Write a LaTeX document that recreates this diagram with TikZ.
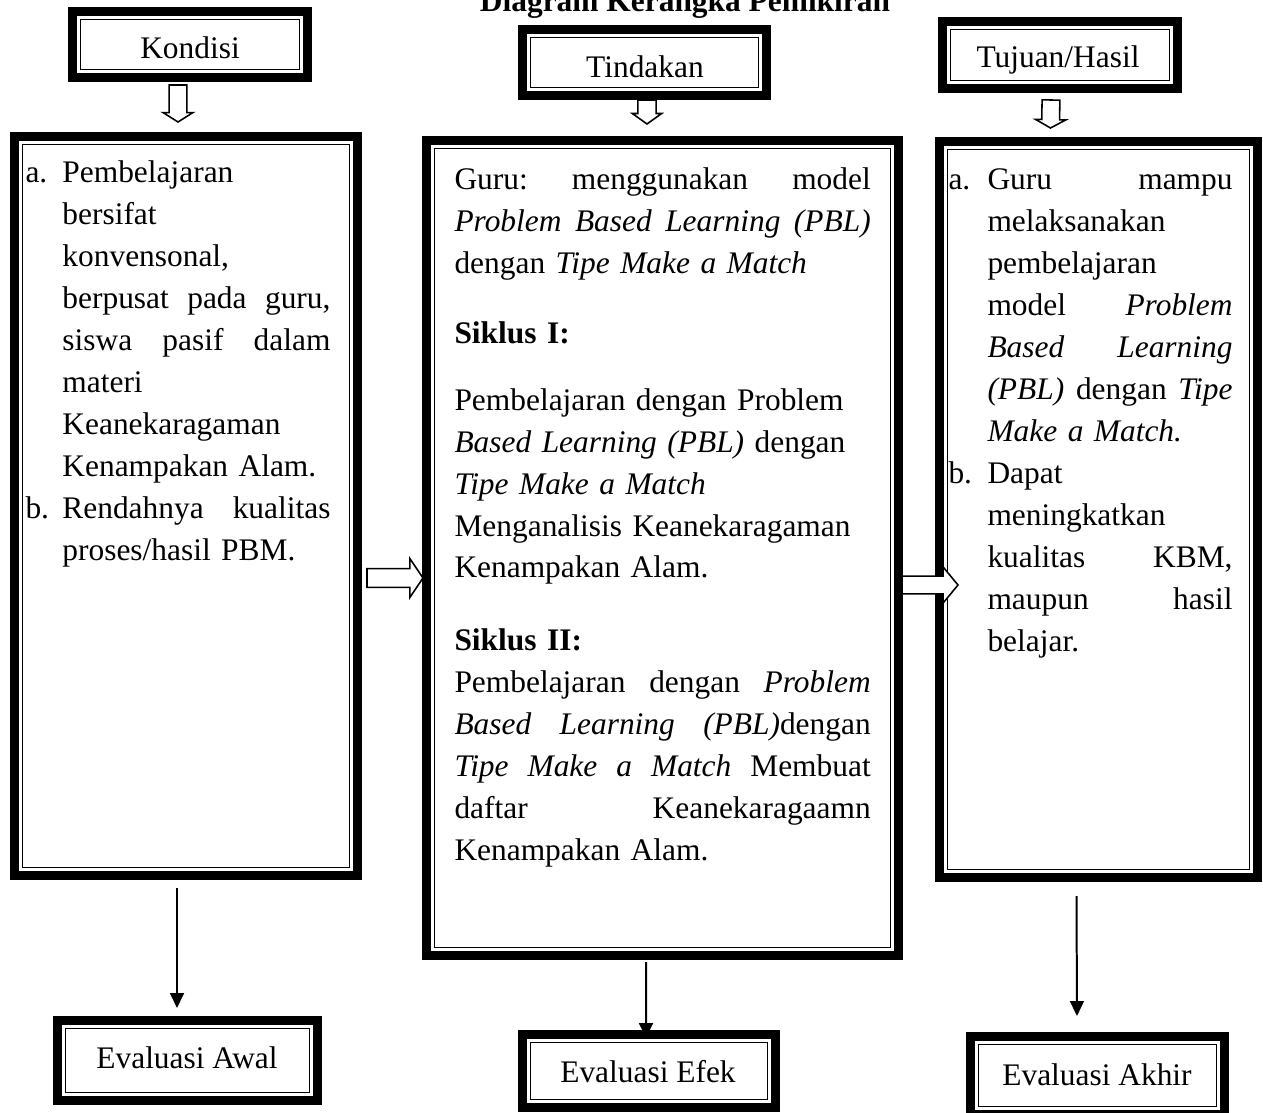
\documentclass[tikz,border=0pt]{standalone}
\usepackage{fontspec}
\setmainfont{Liberation Serif}
\usetikzlibrary{arrows.meta,calc,fit}

\newlength\lbl
\newlength\jw
\setlength\lbl{14.5pt}
% justified line, indented line, label
\newcommand\spread{\spaceskip=0.25em plus 1fil\xspaceskip=\spaceskip}
\newcommand\jl[1]{\leavevmode\hbox to \jw{\spread #1}}
\newcommand\il[1]{\hspace*{\lbl}#1}
\newcommand\ijl[1]{\leavevmode\hbox to \jw{\hspace*{\lbl}\spread #1}}
\newcommand\lab[1]{\makebox[\lbl][l]{#1}}
\newcommand\ljl[2]{\leavevmode\hbox to \jw{\lab{#1}\spread #2}}

\begin{document}
\begin{tikzpicture}[x=0.382pt, y=-0.382pt, font=\fontsize{12}{16.04}\selectfont,
    frm/.style={draw, line width=3.44pt, inner sep=0pt, outer sep=0pt},
    inner/.style={draw, line width=0.6pt},
    txt/.style={anchor=base west, inner sep=0pt, align=left},
    conn/.style={line width=0.76pt, -{Triangle[length=5.7pt, width=5.3pt]}},
    blk/.style n args={3}{draw, fill=white, line width=0.6pt, line join=miter,
        to path={let \p1=(\tikztostart), \p2=(\tikztotarget),
            \n1={atan2(\y2-\y1,\x2-\x1)}, \n2={veclen(\x2-\x1,\y2-\y1)} in
            [shift={(\p1)}, rotate=\n1]
            (0pt,#1) -- ({\n2*1pt-#3},#1) -- ({\n2*1pt-#3},#2) -- ({\n2*1pt},0pt)
            -- ({\n2*1pt-#3},-#2) -- ({\n2*1pt-#3},-#1) -- (0pt,-#1) -- cycle}}]
    \useasboundingbox (0,0) rectangle (1263,1113);

    % Title
    \node[anchor=base] (judul) at (685,12) {\textbf{Diagram Kerangka Pemikiran}};

    % Frames
    \node[frm, fit={(72.5,11.5) (307.5,77.5)}] (kondisi) {};
    \node[frm, fit={(522.5,29.5) (766.5,95.5)}] (tindakan) {};
    \node[frm, fit={(942.5,21.5) (1177.5,88.5)}] (tujuan) {};
    \node[frm, fit={(14.5,136.5) (357.5,875.5)}] (lbox) {};
    \node[frm, fit={(426.5,140.5) (898.5,955.5)}] (mbox) {};
    \node[frm, fit={(939.5,141.5) (1257.5,877.5)}] (rbox) {};
    \node[frm, fit={(57.5,1020.5) (317.5,1100.5)}] (awal) {};
    \node[frm, fit={(522.5,1034.5) (775.5,1107.5)}] (efek) {};
    \node[frm, fit={(970.5,1036.5) (1224.5,1114.5)}] (akhir) {};
    \foreach \n in {kondisi,tindakan,tujuan,lbox,mbox,rbox,awal,efek,akhir}
        \draw[inner] ([shift={(8,8)}]\n.north west) rectangle ([shift={(-8,-8)}]\n.south east);

    % Headings
    \node[anchor=base] (kondisi-t) at (190,59) {Kondisi};
    \node[anchor=base] (tindakan-t) at (645,78) {Tindakan};
    \node[anchor=base] (tujuan-t) at (1058,68) {Tujuan/Hasil};
    \node[anchor=base] (awal-t) at (187,1068) {Evaluasi Awal};
    \node[anchor=base] (efek-t) at (648,1082) {Evaluasi Efek};
    \node[anchor=base] (akhir-t) at (1097,1085) {Evaluasi Akhir};

    % Box texts
    \node[txt, text width=116.5pt] (lbox-t) at (25,183) {\setlength\lbl{14.1pt}\setlength\jw{116.5pt}%
        \lab{a.}Pembelajaran\\
        \il{bersifat}\\
        \il{konvensonal,}\\
        \ijl{berpusat pada guru,}\\
        \ijl{siswa pasif dalam}\\
        \il{materi}\\
        \il{Keanekaragaman}\\
        \il{Kenampakan Alam.}\\
        \ljl{b.}{Rendahnya kualitas}\\
        \il{proses/hasil PBM.}};
    \node[txt, text width=159pt] (mbox-t) at (454,190) {\setlength\jw{159pt}%
        \jl{Guru: menggunakan model}\\
        \jl{\textit{Problem Based Learning (PBL)}}\\
        dengan \textit{Tipe Make a Match}\\[10.7pt]
        \textbf{Siklus I:}\\[9.2pt]
        Pembelajaran dengan Problem\\
        \textit{Based Learning (PBL)} dengan\\
        \textit{Tipe Make a Match}\\
        Menganalisis Keanekaragaman\\
        Kenampakan Alam.\\[11.5pt]
        \textbf{Siklus II:}\\
        \jl{Pembelajaran dengan \textit{Problem}}\\
        \jl{\textit{Based Learning (PBL)}dengan}\\
        \jl{\textit{Tipe Make a Match} Membuat}\\
        \jl{daftar Keanekaragaamn}\\
        Kenampakan Alam.};
    \node[txt, text width=108.5pt] (rbox-t) at (948,190) {\setlength\lbl{14.9pt}\setlength\jw{108.5pt}%
        \ljl{a.}{Guru mampu}\\
        \il{melaksanakan}\\
        \il{pembelajaran}\\
        \ijl{model \textit{Problem}}\\
        \ijl{\textit{Based Learning}}\\
        \ijl{\textit{(PBL)} dengan \textit{Tipe}}\\
        \il{\textit{Make a Match.}}\\
        \lab{b.}Dapat\\
        \il{meningkatkan}\\
        \ijl{kualitas KBM,}\\
        \ijl{maupun hasil}\\
        \il{belajar.}};

    % Arrows to the evaluations
    \draw[conn] ([shift={(-9,12.5)}]lbox.south) -- ([shift={(-10.5,-12.5)}]awal.north);
    \draw[conn] ([shift={(-16.5,6.5)}]mbox.south) -- ([shift={(-3,3.5)}]efek.north);
    \draw[conn] ([shift={(-22,18.5)}]rbox.south) -- ([shift={(-20.5,-20.5)}]akhir.north);

    % Hollow arrows
    \draw[blk={3.4pt}{5.7pt}{3.6pt}] ([shift={(-12,7.5)}]kondisi.south) to ([shift={(-8,-14.5)}]lbox.north);
    \draw[blk={3.5pt}{5.6pt}{4pt}] ([shift={(2.5,4.5)}]tindakan.south) to ([shift={(-15.5,-16.5)}]mbox.north);
    \draw[blk={3.4pt}{5.8pt}{3.2pt}] ([shift={(-9,11.5)}]tujuan.south) to ([shift={(-48,-13.5)}]rbox.north);
    \draw[blk={3.6pt}{7.4pt}{5pt}] ([shift={(9.5,72)}]lbox.east) to ([shift={(-3.5,30)}]mbox.west);
    \draw[blk={3.4pt}{6.9pt}{5.7pt}] ([shift={(3.5,37)}]mbox.east) to ([shift={(18.5,75.5)}]rbox.west);
\end{tikzpicture}
\end{document}
